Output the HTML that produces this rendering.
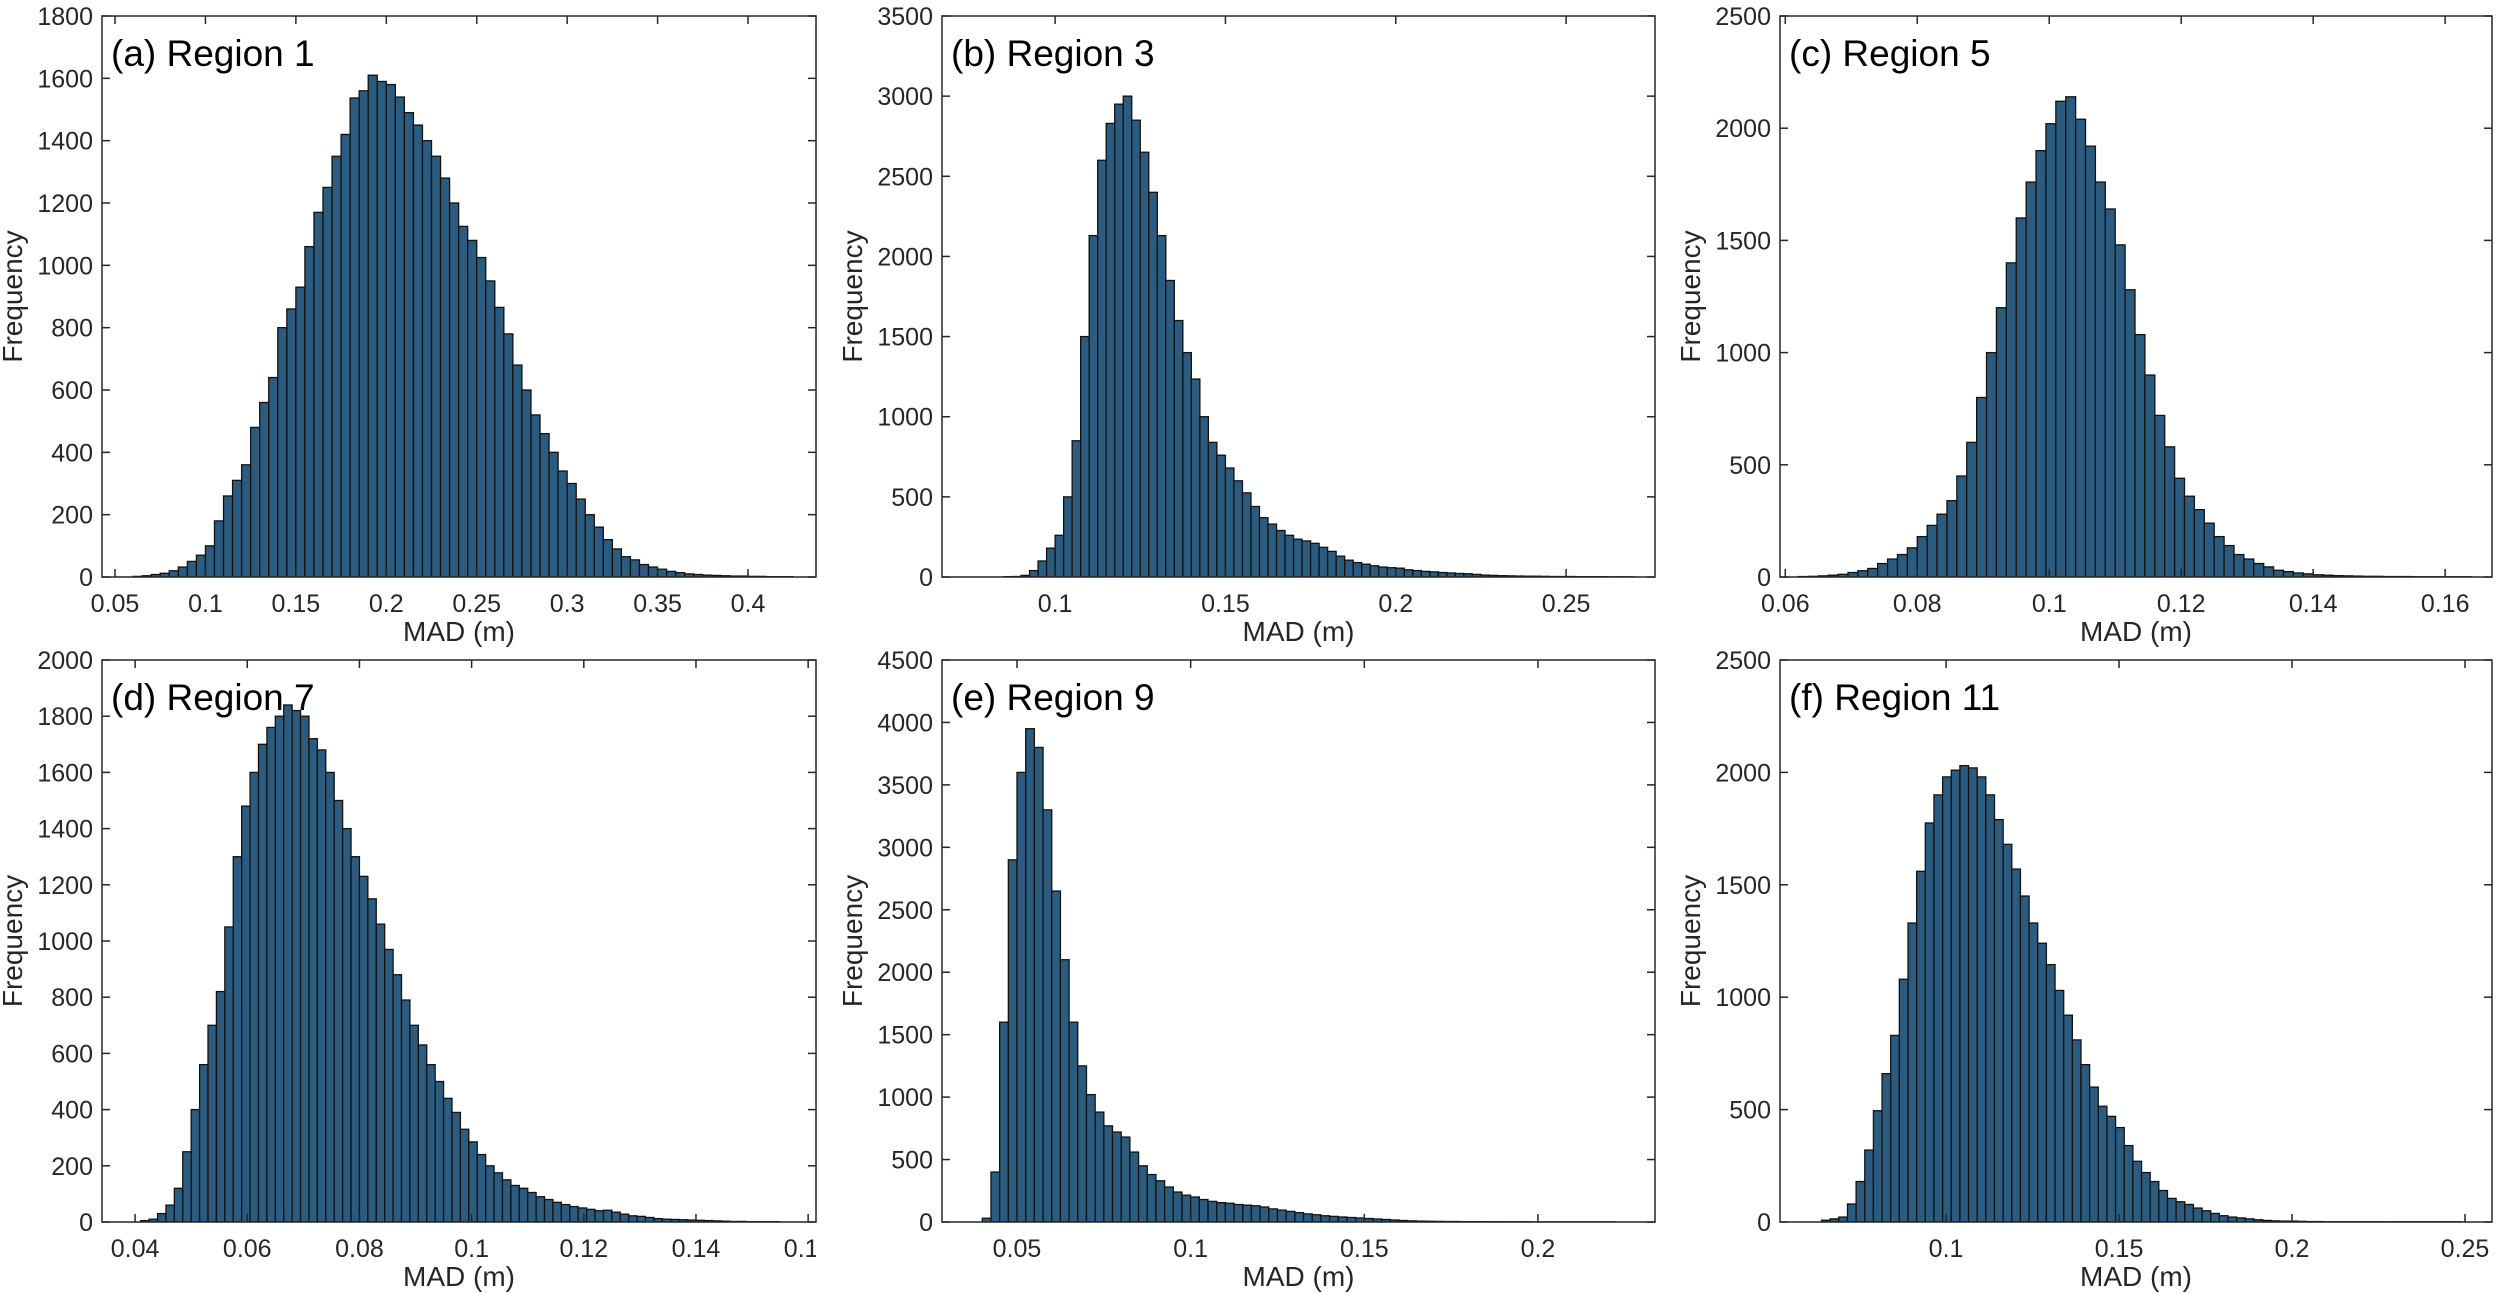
<!DOCTYPE html>
<html><head><meta charset="utf-8">
<style>
html,body{margin:0;padding:0;background:#fff;}
svg{display:block;font-family:"Liberation Sans",sans-serif;}
</style></head>
<body>
<svg id="fig" width="2500" height="1293" viewBox="0 0 2500 1293" xmlns="http://www.w3.org/2000/svg"></svg>
<script>
// ---- data (bin start, bin width, counts) ----
const titles = ["(a) Region 1","(b) Region 3","(c) Region 5","(d) Region 7","(e) Region 9","(f) Region 11"];
const binStarts = [0.06, 0.085, 0.062, 0.041, 0.04, 0.064];
const binWidths = [0.005, 0.0025, 0.0015, 0.0015, 0.0025, 0.0025];
const countsA = [2,4,8,12,20,32,50,70,100,180,260,310,360,480,560,640,800,860,930,1060,1170,1250,1350,1420,1537,1560,1610,1590,1580,1540,1490,1450,1400,1350,1280,1200,1125,1080,1025,950,865,780,680,600,520,460,400,340,300,250,200,160,120,90,65,55,40,32,25,18,14,10,8,6,5,4,3,3,2,2,1,1,1];
const countsB = [2,3,10,40,100,180,260,500,850,1500,2130,2600,2830,2950,3000,2850,2650,2400,2130,1850,1600,1400,1235,1000,840,760,680,600,525,440,370,330,290,260,236,225,210,185,160,130,105,90,80,70,62,58,55,45,40,35,32,28,25,22,20,16,12,10,8,7,6,5,5,4,3,3,3,2,2,2,2,1,1,1];
const countsC = [2,3,5,8,12,20,28,38,60,80,100,130,180,230,280,340,450,600,800,1000,1200,1400,1600,1760,1900,2020,2120,2140,2040,1920,1760,1640,1480,1280,1080,900,720,580,440,360,300,240,180,140,100,80,60,45,30,24,18,14,10,8,6,5,4,3,3,2,2,2,1,1,1,1,1,1];
const countsD = [5,10,30,60,120,250,400,560,700,820,1050,1300,1480,1600,1700,1760,1800,1840,1820,1800,1720,1680,1600,1500,1400,1300,1230,1150,1060,970,880,790,700,630,560,500,440,390,330,285,240,200,175,150,130,120,105,90,80,70,62,55,50,45,40,42,35,28,22,20,16,12,10,9,8,7,6,5,4,3,2,2,1,1,1,1];
const countsE = [30,400,1600,2900,3600,3950,3800,3300,2650,2100,1600,1250,1020,880,770,720,680,560,450,380,330,280,240,215,200,180,165,155,150,140,135,130,120,105,95,85,75,65,58,50,45,40,36,32,28,24,20,16,12,9,7,6,5,4,4,3,3,3,2,2,2,2,2,1,1,1,1,1,1,1,1,1,1];
const countsF = [8,14,22,80,180,320,495,660,830,1080,1330,1560,1775,1900,1980,2010,2030,2020,1980,1900,1790,1680,1570,1450,1330,1240,1145,1030,920,810,700,600,515,470,420,340,270,220,180,140,105,90,78,62,50,38,28,22,18,14,10,7,5,4,4,3,2,2,1,1,1,1,1,1,1,1,1,1,1,1,1,1,1,1];
const allCounts = [countsA,countsB,countsC,countsD,countsE,countsF];
const xMins = [0.0428, 0.0668, 0.0592, 0.0341, 0.0284, 0.052];
const xMaxs = [0.4376, 0.2761, 0.1671, 0.1614, 0.2337, 0.2578];
const yMaxs = [1800, 3500, 2500, 2000, 4500, 2500];
const yTickSteps = [200, 500, 500, 200, 500, 500];
const xTicks = [
  [0.05,0.1,0.15,0.2,0.25,0.3,0.35,0.4],
  [0.1,0.15,0.2,0.25],
  [0.06,0.08,0.1,0.12,0.14,0.16],
  [0.04,0.06,0.08,0.1,0.12,0.14,0.16],
  [0.05,0.1,0.15,0.2],
  [0.1,0.15,0.2,0.25]
];
const xTickLabels = [
  ["0.05","0.1","0.15","0.2","0.25","0.3","0.35","0.4"],
  ["0.1","0.15","0.2","0.25"],
  ["0.06","0.08","0.1","0.12","0.14","0.16"],
  ["0.04","0.06","0.08","0.1","0.12","0.14","0.16"],
  ["0.05","0.1","0.15","0.2"],
  ["0.1","0.15","0.2","0.25"]
];
// ---- layout ----
const colL = [102, 942, 1780], colR = [816, 1655, 2492];
const rowT = [16, 660], rowB = [577, 1222];
const NS = "http://www.w3.org/2000/svg";
const svg = document.getElementById('fig');
function mk(tag, attrs, parent){
  const e = document.createElementNS(NS, tag);
  for (const k in attrs) e.setAttribute(k, attrs[k]);
  (parent||svg).appendChild(e);
  return e;
}
const defs = mk('defs', {});
for (let p = 0; p < 6; p++) {
  const c = p % 3, r = Math.floor(p / 3);
  const L = colL[c], R = colR[c], T = rowT[r], B = rowB[r];
  const xs = v => L + (v - xMins[p]) / (xMaxs[p] - xMins[p]) * (R - L);
  const ys = v => B - v / yMaxs[p] * (B - T);
  const g = mk('g', {});
  
  
  const cp = mk('clipPath', {id: 'clip' + p}, defs);
  mk('rect', {x: L, y: T, width: R - L, height: B - T}, cp);
  const lc = mk('clipPath', {id: 'lclip' + p}, defs);
  mk('rect', {x: L - 60, y: 0, width: R - L + 60 + (c === 0 ? 0 : 200), height: 1293}, lc);
  // bars
  const bars = mk('g', {'clip-path': 'url(#clip' + p + ')'}, g);
  
  
  const counts = allCounts[p];
  for (let i = 0; i < counts.length; i++) {
    const x0 = xs(binStarts[p] + i * binWidths[p]);
    const x1 = xs(binStarts[p] + (i + 1) * binWidths[p]);
    const b = mk('rect', {x: x0, y: ys(counts[i]), width: x1 - x0, height: ys(0) - ys(counts[i]),
      fill: '#2b5c80', stroke: '#111', 'stroke-width': 1.3}, bars);
    
    
  }
  // axes box
  const box = mk('rect', {x: L, y: T, width: R - L, height: B - T, fill: 'none', stroke: '#262626', 'stroke-width': 1.5}, g);
  
  
  // y ticks
  for (let v = 0; v <= yMaxs[p] + 1e-9; v += yTickSteps[p]) {
    const y = ys(v);
    mk('line', {x1: L, x2: L + 8, y1: y, y2: y, stroke: '#262626', 'stroke-width': 1.5}, g);
    mk('line', {x1: R, x2: R - 8, y1: y, y2: y, stroke: '#262626', 'stroke-width': 1.5}, g);
    const t = mk('text', {x: L - 9, y: y + 9, 'text-anchor': 'end', 'font-size': 25, fill: '#262626'}, g);
    t.textContent = String(v);
    
    
  }
  // x ticks
  const xl = mk('g', {'clip-path': 'url(#lclip' + p + ')'}, g);
  xTicks[p].forEach((v, i) => {
    const x = xs(v);
    mk('line', {x1: x, x2: x, y1: B, y2: B - 8, stroke: '#262626', 'stroke-width': 1.5}, g);
    mk('line', {x1: x, x2: x, y1: T, y2: T + 8, stroke: '#262626', 'stroke-width': 1.5}, g);
    const t = mk('text', {x: x, y: B + 35, 'text-anchor': 'middle', 'font-size': 25, fill: '#262626'}, xl);
    t.textContent = xTickLabels[p][i];
    
    
  });
  // axis titles
  const xt = mk('text', {x: (L + R) / 2, y: B + 64, 'text-anchor': 'middle', 'font-size': 28, fill: '#262626'}, g);
  xt.textContent = 'MAD (m)';
  
  
  const yc = (T + B) / 2, yx = L - 80;
  const yt = mk('text', {x: yx, y: yc, 'text-anchor': 'middle', 'font-size': 28, fill: '#262626',
    transform: 'rotate(-90 ' + yx + ' ' + yc + ')'}, g);
  yt.textContent = 'Frequency';
  
  
  // panel title
  const pt = mk('text', {x: L + 9, y: T + 50, 'font-size': 37, fill: '#000'}, g);
  pt.textContent = titles[p];
  
  
}
</script>
</body></html>
